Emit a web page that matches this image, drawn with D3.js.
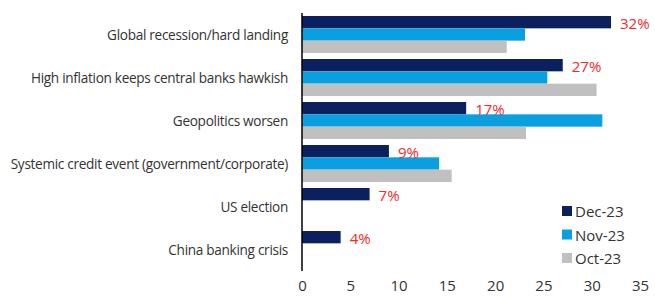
<!DOCTYPE html>
<html><head><meta charset="utf-8">
<script src="https://cdn.jsdelivr.net/npm/d3@7"></script>
<style>
body{margin:0;background:#fff;}
svg text{font-family:"Open Sans","Noto Sans",sans-serif;}
</style></head>
<body><svg id="c" width="655" height="297"></svg>
<script>
const categories = ["Global recession/hard landing","High inflation keeps central banks hawkish","Geopolitics worsen","Systemic credit event (government/corporate)","US election","China banking crisis"];
const seriesNames = ["Dec-23","Nov-23","Oct-23"];
const dec23 = [32, 27, 17, 9, 7, 4];
const nov23 = [23.1, 25.4, 31.1, 14.2, null, null];
const oct23 = [21.2, 30.5, 23.2, 15.5, null, null];
const decLabels = ["32%","27%","17%","9%","7%","4%"];
const xTicks = [0,5,10,15,20,25,30,35];
const colors = ["#0c1f5e","#0aa0e0","#c0c0c0"];

const svg = d3.select("#c");
const x = d3.scaleLinear().domain([0,35]).range([302,640]);
const y = d3.scaleBand().domain(categories).range([13,271]).paddingInner(0.14).paddingOuter(0.07);
const sub = d3.scaleBand().domain(seriesNames).range([0,y.bandwidth()]);
const all = [dec23,nov23,oct23];

categories.forEach((c,i)=>{
  seriesNames.forEach((s,j)=>{
    const v = all[j][i];
    if(v==null) return;
    svg.append("rect").attr("x",x(0)).attr("y",y(c)+sub(s))
      .attr("width",x(v)-x(0)).attr("height",sub.bandwidth()).attr("fill",colors[j]);
  });
  svg.append("text").attr("x",x(dec23[i])+9).attr("y",y(c)+sub.bandwidth()/2+0.5)
    .attr("dominant-baseline","central").attr("fill","#ee2a2a").attr("font-size",15)
    .text(decLabels[i]);
  svg.append("text").attr("x",288).attr("y",y(c)+y.bandwidth()/2)
    .attr("dominant-baseline","central").attr("text-anchor","end")
    .attr("fill","#333").attr("font-size",13.6).attr("letter-spacing",-0.3).text(c);
});

svg.append("line").attr("x1",x(0)).attr("x2",x(0)).attr("y1",13).attr("y2",271)
  .attr("stroke","#000").attr("stroke-width",1.5);

const ax = svg.append("g").attr("transform","translate(0,280)")
  .call(d3.axisBottom(x).tickValues(xTicks).tickSize(0).tickPadding(0));
ax.select(".domain").remove();
ax.selectAll("text").attr("font-size",15).attr("fill","#333")
  .attr("font-family","'Open Sans','Noto Sans',sans-serif").attr("dy","0.75em");

const lg = svg.append("g");
seriesNames.forEach((s,j)=>{
  const yy = 211 + j*23.5;
  lg.append("rect").attr("x",562).attr("y",yy-5).attr("width",10).attr("height",10).attr("fill",colors[j]);
  lg.append("text").attr("x",575).attr("y",yy).attr("dominant-baseline","central")
    .attr("font-size",15).attr("fill","#333").text(s);
});
</script></body></html>
